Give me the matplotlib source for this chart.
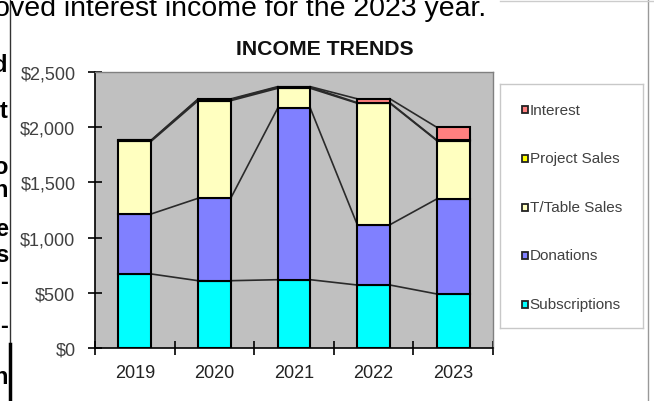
import matplotlib
matplotlib.use('Agg')
import matplotlib.pyplot as plt
import numpy as np
from matplotlib.patches import Rectangle
from matplotlib.lines import Line2D

plt.rcParams['font.family'] = ['Liberation Sans', 'DejaVu Sans']

years = ['2019', '2020', '2021', '2022', '2023']
subscriptions = [672, 611, 620, 572, 491]
donations = [542, 745, 1550, 545, 859]
ttable_sales = [657, 882, 180, 1098, 527]
project_sales = [8, 10, 10, 5, 5]
interest = [2, 6, 5, 35, 115]
yticks = [0, 500, 1000, 1500, 2000, 2500]
ytick_labels = ['$0', '$500', '$1,000', '$1,500', '$2,000', '$2,500']

series_names = ['Subscriptions', 'Donations', 'T/Table Sales', 'Project Sales', 'Interest']
series_values = [subscriptions, donations, ttable_sales, project_sales, interest]
series_colors = ['#00FFFF', '#8080FF', '#FFFFC0', '#FFFF00', '#FF8080']

W, H = 654, 402
fig = plt.figure(figsize=(W / 100, H / 100), dpi=100)
fig.patch.set_facecolor('white')

def fx(px):
    return px / W

def fy(py):
    return 1 - py / H

ax = fig.add_axes([fx(95), fy(349.3), 398 / W, 276.6 / H])
ax.set_facecolor('#C0C0C0')
x = np.arange(len(years))
bw = 0.41
bottom = np.zeros(len(years))
for name, vals, col in zip(series_names, series_values, series_colors):
    v = np.array(vals, dtype=float)
    ax.bar(x, v, bw, bottom=bottom, color=col, edgecolor='black',
           linewidth=1.5, zorder=3)
    top = bottom + v
    for i in range(len(years) - 1):
        ax.plot([x[i] + bw / 2, x[i + 1] - bw / 2], [top[i], top[i + 1]],
                color='#2a2a2a', lw=1.2, zorder=2)
    bottom = top

ax.set_xlim(-0.5, len(years) - 0.5)
ax.set_ylim(0, 2500)
for s in ['left', 'bottom']:
    ax.spines[s].set_color('black')
    ax.spines[s].set_linewidth(1.2)
for s in ['top', 'right']:
    ax.spines[s].set_color('#808080')
    ax.spines[s].set_linewidth(1.0)

ax.set_yticks(yticks, ytick_labels)
ax.tick_params(axis='y', direction='inout', length=10, width=1.2,
               labelsize=13, pad=9, labelcolor='#404040')
ax.set_xticks(x, years)
ax.set_xticks(np.arange(-0.5, len(years), 1), minor=True)
ax.tick_params(axis='x', which='major', length=0, pad=11, labelsize=13,
               labelcolor='#222222')
ax.tick_params(axis='x', which='minor', direction='inout', length=10,
               width=1.2)

# Title
fig.text(fx(325), fy(55), 'INCOME TRENDS', ha='center', va='baseline',
         fontsize=15.3, fontweight='bold', color='#111111')

# Legend (manual)
lax = fig.add_axes([fx(500), fy(329), 143 / W, 244 / H])
lax.set_xlim(0, 143)
lax.set_ylim(244, 0)
lax.set_facecolor('white')
for s in lax.spines.values():
    s.set_color('#C8C8C8')
    s.set_linewidth(1)
lax.set_xticks([])
lax.set_yticks([])
leg_y = [25.7, 74, 123, 171, 220]
for yy, name, col in zip(leg_y, series_names[::-1], series_colors[::-1]):
    lax.add_patch(Rectangle((22, yy - 3.5), 6, 7, facecolor=col,
                            edgecolor='#222222', linewidth=1.3))
    lax.text(29.5, yy, name, ha='left', va='center', fontsize=11,
             color='#404040')

# Surrounding document fragments
fig.text(fx(-6), fy(16), 'oved interest income for the 2023 year.',
         ha='left', va='baseline', fontsize=20.5, color='black')
frag = [('d', 66), ('t', 111), ('o', 168), ('n', 191), ('e', 230),
        ('s', 255), ('-', 283), ('-', 327), ('n', 378)]
for ch, yy in frag:
    fig.text(fx(8), fy(yy), ch, ha='right', va='center', fontsize=17,
             fontweight='bold', color='black')

fig.add_artist(Line2D([fx(10), fx(10)], [0, 1], transform=fig.transFigure,
                      color='#333333', lw=1))
fig.add_artist(Line2D([fx(10), fx(10)], [0, fy(345)], transform=fig.transFigure,
                      color='black', lw=2.5))
fig.add_artist(Line2D([fx(648), fx(648)], [0, 1], transform=fig.transFigure,
                      color='#999999', lw=1))
fig.add_artist(Line2D([fx(500), 1], [fy(2), fy(2)], transform=fig.transFigure,
                      color='#CCCCCC', lw=1))

fig.savefig('out.png', dpi=100, facecolor='white')
